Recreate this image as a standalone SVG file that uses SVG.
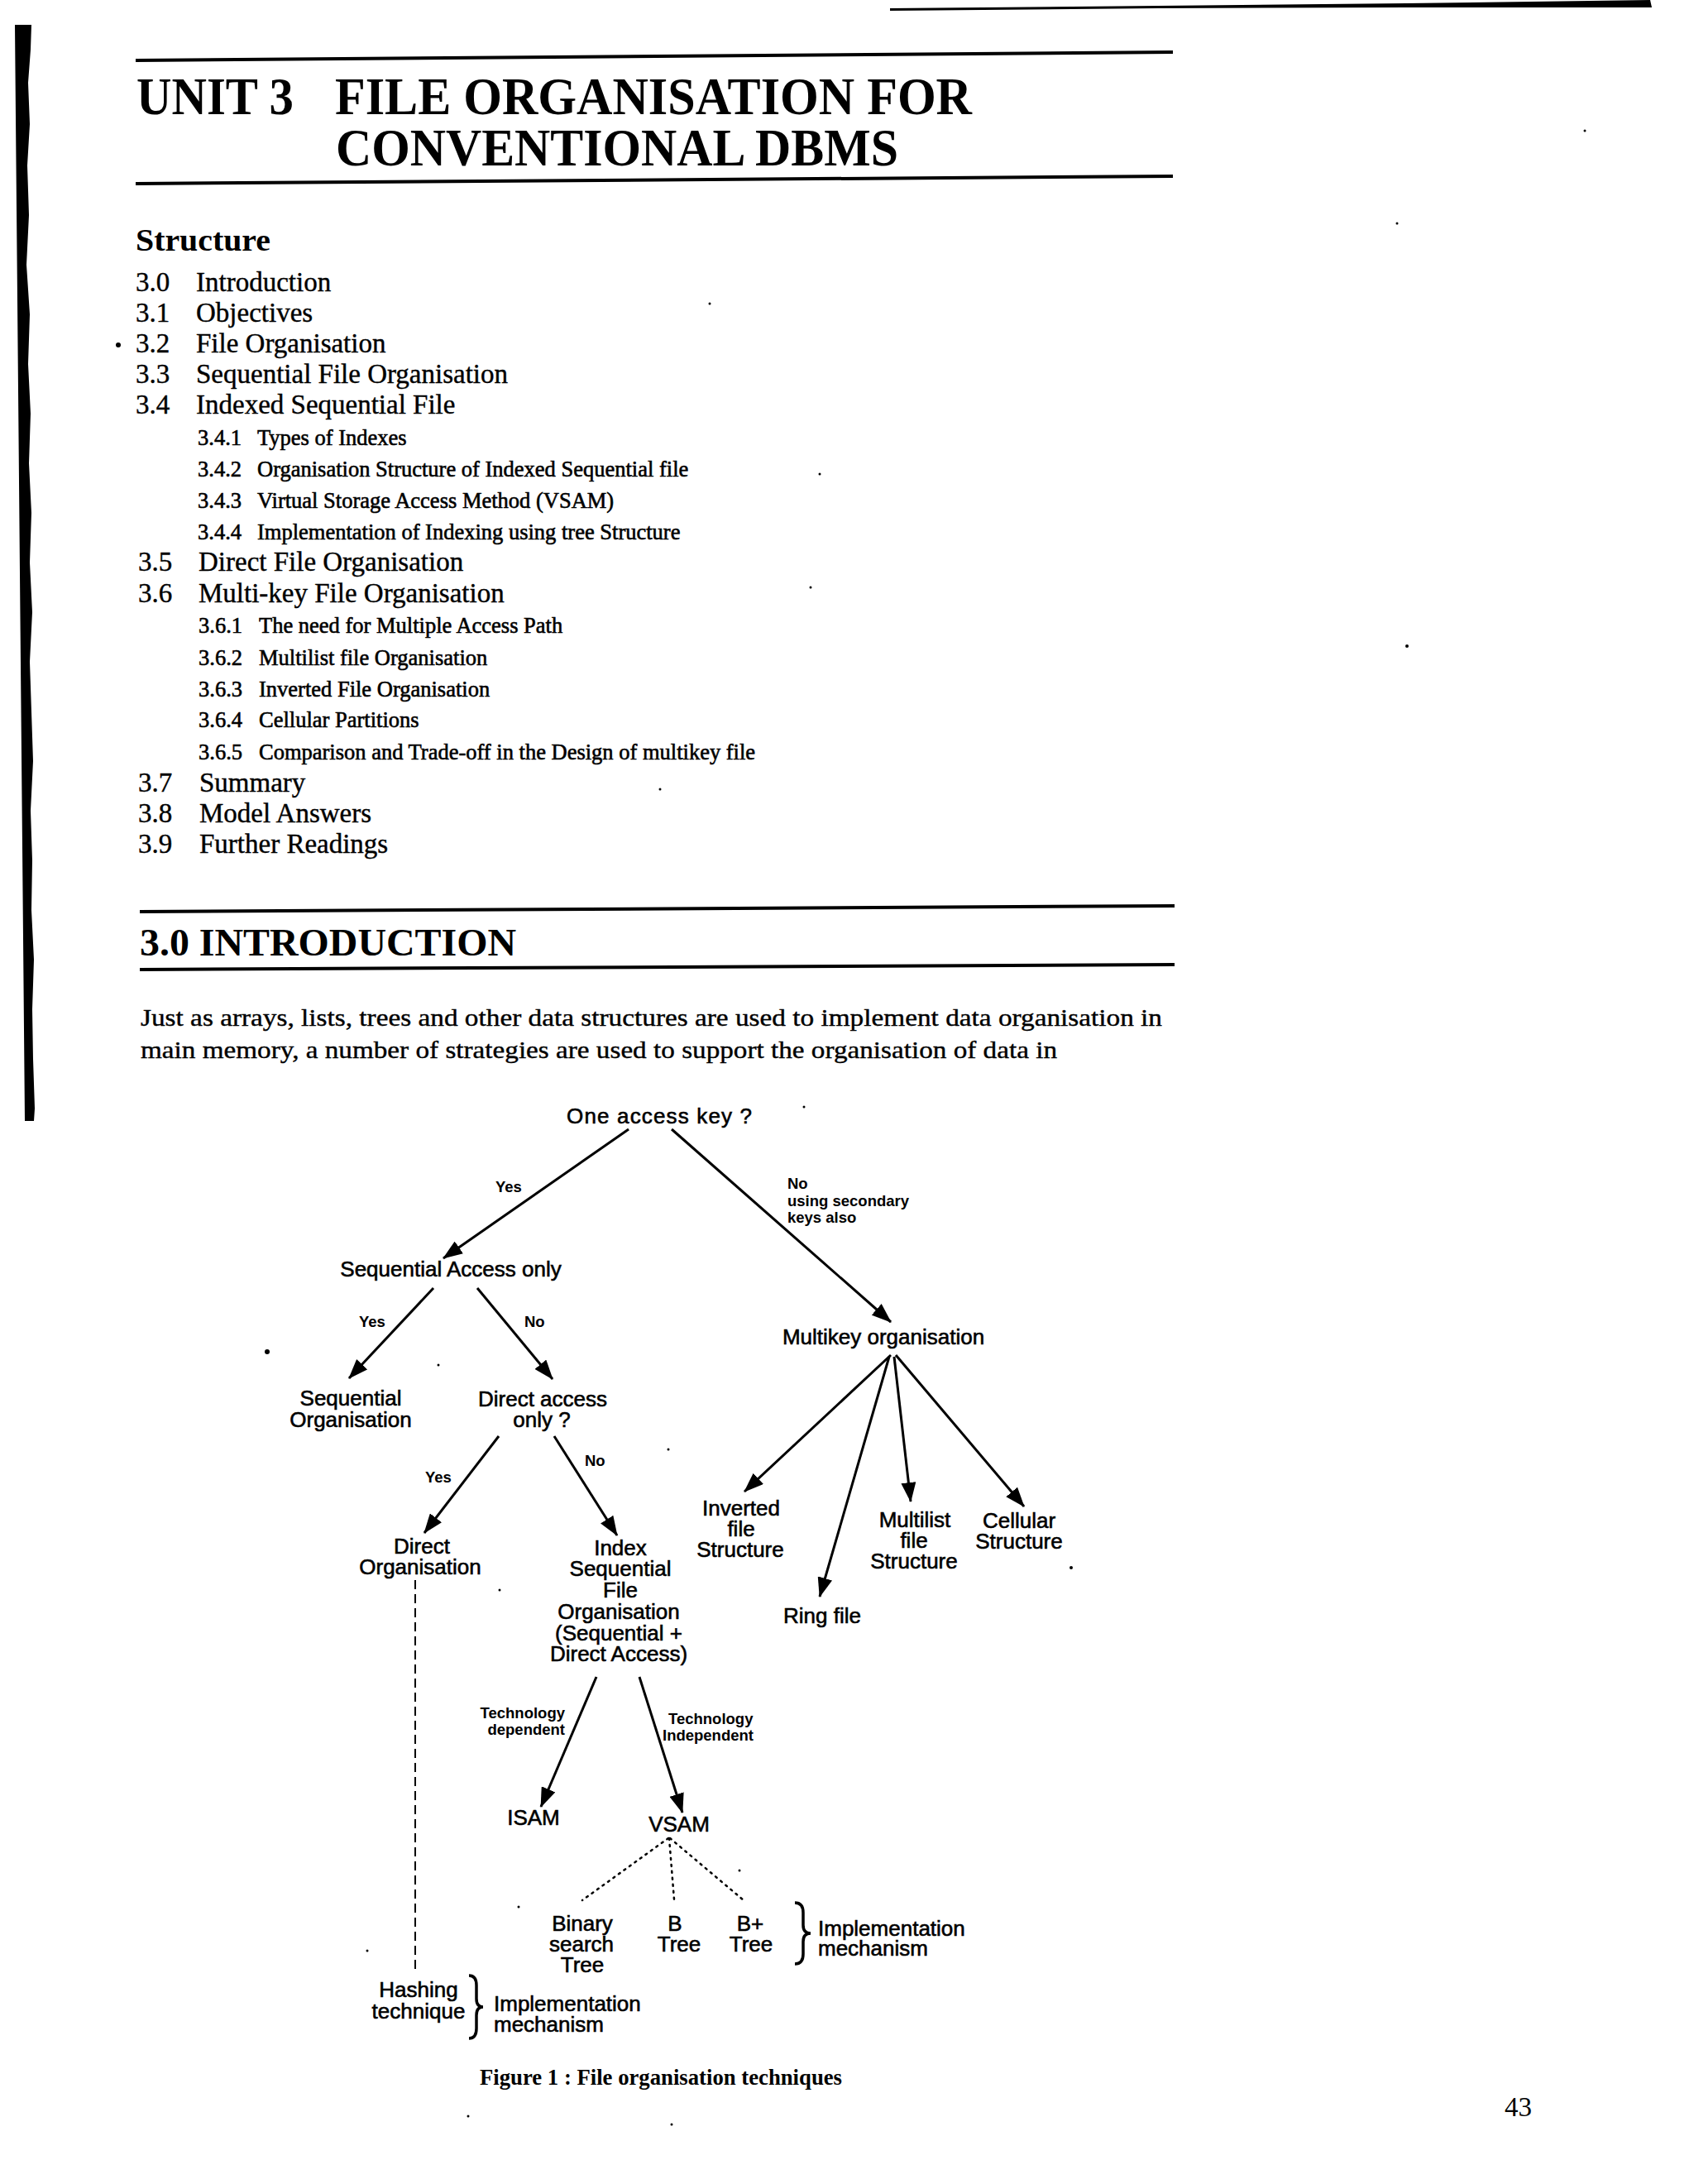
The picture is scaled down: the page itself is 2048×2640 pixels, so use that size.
<svg xmlns="http://www.w3.org/2000/svg" width="2048" height="2640" viewBox="0 0 2048 2640">
<defs>
<style>
.serif{font-family:"Liberation Serif","Times New Roman",serif;fill:#000}
.tb{font-weight:bold}
.title{font-size:63px;font-weight:bold}
.toc{font-size:33px;stroke:#000;stroke-width:0.4}
.sub{font-size:26.5px;stroke:#000;stroke-width:0.6}
.para{font-size:30px;stroke:#000;stroke-width:0.4}
.node{font-family:"Liberation Sans",Arial,sans-serif;font-size:26px;fill:#000;text-anchor:middle;stroke:#000;stroke-width:0.6}
.lbl{font-family:"Liberation Sans",Arial,sans-serif;font-size:18.5px;font-weight:bold;fill:#000}
.edge{stroke:#000;stroke-width:3;fill:none}
.dot{stroke:#000;stroke-width:2.5;fill:none;stroke-dasharray:2 6;stroke-linecap:round}
.dash{stroke:#000;stroke-width:2;fill:none;stroke-dasharray:11 6}
.rule{stroke:#000;stroke-width:4;fill:none}
.brace{stroke:#000;stroke-width:3.5;fill:none}
</style>
<marker id="ah" markerUnits="userSpaceOnUse" markerWidth="24" markerHeight="18" refX="23" refY="9" orient="auto">
<path d="M0,0 L24,9 L0,18 z" fill="#000"/>
</marker>
</defs>
<rect width="2048" height="2640" fill="#fff"/>

<!-- page decorations -->
<g id="page">
<polygon points="18,30 38,30 37,60 34,100 36,150 33,200 35,260 32,320 36,380 34,440 37,500 35,560 38,620 36,680 39,740 36,800 38,860 40,920 37,980 39,1040 38,1100 41,1160 39,1220 40,1280 42,1340 41,1355 30,1355" fill="#000"/>
<polygon points="1076,10 1400,7 1700,4 1995,0 1997,9 1700,9 1400,10 1076,13" fill="#000"/>
<line class="rule" x1="164" y1="73" x2="1418" y2="63"/>
<line class="rule" x1="164" y1="222" x2="1418" y2="213"/>
<line class="rule" x1="169" y1="1102" x2="1420" y2="1095"/>
<line class="rule" x1="169" y1="1172" x2="1420" y2="1166"/>
<g fill="#000">
<circle cx="143" cy="417" r="3"/>
<circle cx="323" cy="1634" r="3"/>
<circle cx="1916" cy="158" r="1.5"/>
<circle cx="1689" cy="270" r="1.5"/>
<circle cx="858" cy="367" r="1.5"/>
<circle cx="991" cy="573" r="1.5"/>
<circle cx="980" cy="710" r="1.5"/>
<circle cx="1701" cy="781" r="2"/>
<circle cx="798" cy="954" r="1.5"/>
<circle cx="972" cy="1338" r="1.5"/>
<circle cx="530" cy="1650" r="1.5"/>
<circle cx="808" cy="1752" r="1.5"/>
<circle cx="604" cy="1922" r="1.5"/>
<circle cx="894" cy="2261" r="1.5"/>
<circle cx="627" cy="2305" r="1.5"/>
<circle cx="444" cy="2358" r="1.5"/>
<circle cx="1295" cy="1895" r="2"/>
<circle cx="566" cy="2558" r="1.5"/>
<circle cx="812" cy="2568" r="1.5"/>
</g>
</g>

<g id="heading" class="serif">
<text class="title" x="165" y="138" textLength="190" lengthAdjust="spacingAndGlyphs">UNIT 3</text>
<text class="title" x="405" y="138" textLength="770" lengthAdjust="spacingAndGlyphs">FILE ORGANISATION FOR</text>
<text class="title" x="406" y="200" textLength="680" lengthAdjust="spacingAndGlyphs">CONVENTIONAL DBMS</text>
<text class="tb" x="164" y="303" font-size="38" textLength="163" lengthAdjust="spacingAndGlyphs">Structure</text>
</g>

<g id="toc" class="serif">
<text class="toc" x="164" y="352">3.0</text><text class="toc" x="237" y="352">Introduction</text>
<text class="toc" x="164" y="389">3.1</text><text class="toc" x="237" y="389">Objectives</text>
<text class="toc" x="164" y="426">3.2</text><text class="toc" x="237" y="426">File Organisation</text>
<text class="toc" x="164" y="463">3.3</text><text class="toc" x="237" y="463">Sequential File Organisation</text>
<text class="toc" x="164" y="500">3.4</text><text class="toc" x="237" y="500">Indexed Sequential File</text>
<text class="sub" x="239" y="538">3.4.1</text><text class="sub" x="311" y="538">Types of Indexes</text>
<text class="sub" x="239" y="576">3.4.2</text><text class="sub" x="311" y="576">Organisation Structure of Indexed Sequential file</text>
<text class="sub" x="239" y="614">3.4.3</text><text class="sub" x="311" y="614">Virtual Storage Access Method (VSAM)</text>
<text class="sub" x="239" y="652">3.4.4</text><text class="sub" x="311" y="652">Implementation of Indexing using tree Structure</text>
<text class="toc" x="167" y="690">3.5</text><text class="toc" x="240" y="690">Direct File Organisation</text>
<text class="toc" x="167" y="728">3.6</text><text class="toc" x="240" y="728">Multi-key File Organisation</text>
<text class="sub" x="240" y="765">3.6.1</text><text class="sub" x="313" y="765">The need for Multiple Access Path</text>
<text class="sub" x="240" y="804">3.6.2</text><text class="sub" x="313" y="804">Multilist file Organisation</text>
<text class="sub" x="240" y="842">3.6.3</text><text class="sub" x="313" y="842">Inverted File Organisation</text>
<text class="sub" x="240" y="879">3.6.4</text><text class="sub" x="313" y="879">Cellular Partitions</text>
<text class="sub" x="240" y="918">3.6.5</text><text class="sub" x="313" y="918">Comparison and Trade-off in the Design of multikey file</text>
<text class="toc" x="167" y="957">3.7</text><text class="toc" x="241" y="957">Summary</text>
<text class="toc" x="167" y="994">3.8</text><text class="toc" x="241" y="994">Model Answers</text>
<text class="toc" x="167" y="1031">3.9</text><text class="toc" x="241" y="1031">Further Readings</text>
</g>

<g id="intro" class="serif">
<text class="tb" x="169" y="1155" font-size="46" textLength="455" lengthAdjust="spacingAndGlyphs">3.0 INTRODUCTION</text>
<text class="para" x="170" y="1240" textLength="1235" lengthAdjust="spacingAndGlyphs">Just as arrays, lists, trees and other data structures are used to implement data organisation in</text>
<text class="para" x="170" y="1279" textLength="1108" lengthAdjust="spacingAndGlyphs">main memory, a number of strategies are used to support the organisation of data in</text>
</g>

<!-- connectors -->
<g id="connectors">
<line class="edge" x1="760" y1="1365" x2="536" y2="1521" marker-end="url(#ah)"/>
<line class="edge" x1="812" y1="1365" x2="1077" y2="1598" marker-end="url(#ah)"/>
<line class="edge" x1="524" y1="1557" x2="422" y2="1666" marker-end="url(#ah)"/>
<line class="edge" x1="577" y1="1557" x2="668" y2="1667" marker-end="url(#ah)"/>
<line class="edge" x1="603" y1="1736" x2="513" y2="1853" marker-end="url(#ah)"/>
<line class="edge" x1="670" y1="1736" x2="746" y2="1856" marker-end="url(#ah)"/>
<line class="edge" x1="721" y1="2027" x2="654" y2="2184" marker-end="url(#ah)"/>
<line class="edge" x1="773" y1="2027" x2="825" y2="2191" marker-end="url(#ah)"/>
<line class="edge" x1="1077" y1="1638" x2="900" y2="1803" marker-end="url(#ah)"/>
<line class="edge" x1="1075" y1="1640" x2="991" y2="1930" marker-end="url(#ah)"/>
<line class="edge" x1="1081" y1="1640" x2="1101" y2="1815" marker-end="url(#ah)"/>
<line class="edge" x1="1083" y1="1638" x2="1238" y2="1821" marker-end="url(#ah)"/>
<line class="dot" x1="808" y1="2222" x2="704" y2="2297"/>
<line class="dot" x1="809" y1="2222" x2="815" y2="2296"/>
<line class="dot" x1="810" y1="2222" x2="899" y2="2297"/>
<line class="dash" x1="502" y1="1910" x2="502" y2="2380"/>
<path class="brace" d="M961,2300 Q971,2300 971,2312 L971,2327 Q971,2337 980,2337 Q971,2337 971,2347 L971,2362 Q971,2374 961,2374"/>
<path class="brace" d="M567,2388 Q576,2388 576,2400 L576,2416 Q576,2426 584,2426 Q576,2426 576,2436 L576,2452 Q576,2464 567,2464"/>
<text class="lbl" x="599" y="1441">Yes</text>
<text class="lbl" x="952" y="1437">No</text>
<text class="lbl" x="952" y="1458">using secondary</text>
<text class="lbl" x="952" y="1478">keys also</text>
<text class="lbl" x="434" y="1604">Yes</text>
<text class="lbl" x="634" y="1604">No</text>
<text class="lbl" x="514" y="1792">Yes</text>
<text class="lbl" x="707" y="1772">No</text>
<text class="lbl" x="683" y="2077" text-anchor="end">Technology</text>
<text class="lbl" x="683" y="2097" text-anchor="end">dependent</text>
<text class="lbl" x="808" y="2084">Technology</text>
<text class="lbl" x="801" y="2104">Independent</text>
</g>

<g id="n-onekey"><text class="node" x="685" y="1358" style="text-anchor:start" textLength="224" lengthAdjust="spacing">One access key ?</text></g>
<g id="n-seqaccess"><text class="node" x="545" y="1543">Sequential Access only</text></g>
<g id="n-multikey"><text class="node" x="1068" y="1625">Multikey organisation</text></g>
<g id="n-seqorg"><text class="node"><tspan x="424" y="1699">Sequential</tspan><tspan x="424" y="1725">Organisation</tspan></text></g>
<g id="n-directq"><text class="node"><tspan x="656" y="1700">Direct access</tspan><tspan x="655" y="1725">only ?</tspan></text></g>
<g id="n-directorg"><text class="node"><tspan x="510" y="1878">Direct</tspan><tspan x="508" y="1903">Organisation</tspan></text></g>
<g id="n-isfo"><text class="node"><tspan x="750" y="1880">Index</tspan><tspan x="750" y="1905">Sequential</tspan><tspan x="750" y="1931">File</tspan><tspan x="748" y="1957">Organisation</tspan><tspan x="748" y="1983">(Sequential +</tspan><tspan x="748" y="2008">Direct Access)</tspan></text></g>
<g id="n-inverted"><text class="node"><tspan x="896" y="1832">Inverted</tspan><tspan x="896" y="1857">file</tspan><tspan x="895" y="1882">Structure</tspan></text></g>
<g id="n-ring"><text class="node" x="994" y="1962">Ring file</text></g>
<g id="n-multilist"><text class="node"><tspan x="1106" y="1846">Multilist</tspan><tspan x="1105" y="1871">file</tspan><tspan x="1105" y="1896">Structure</tspan></text></g>
<g id="n-cellular"><text class="node"><tspan x="1232" y="1847">Cellular</tspan><tspan x="1232" y="1872">Structure</tspan></text></g>
<g id="n-isam"><text class="node" x="645" y="2206">ISAM</text></g>
<g id="n-vsam"><text class="node" x="821" y="2214">VSAM</text></g>
<g id="n-bst"><text class="node"><tspan x="704" y="2334">Binary</tspan><tspan x="703" y="2359">search</tspan><tspan x="704" y="2384">Tree</tspan></text></g>
<g id="n-btree"><text class="node"><tspan x="816" y="2334">B</tspan><tspan x="821" y="2359">Tree</tspan></text></g>
<g id="n-bplus"><text class="node"><tspan x="907" y="2334">B+</tspan><tspan x="908" y="2359">Tree</tspan></text></g>
<g id="n-impl1"><text class="node" style="text-anchor:start"><tspan x="989" y="2340">Implementation</tspan><tspan x="989" y="2364">mechanism</tspan></text></g>
<g id="n-hashing"><text class="node"><tspan x="506" y="2414">Hashing</tspan><tspan x="506" y="2440">technique</tspan></text></g>
<g id="n-impl2"><text class="node" style="text-anchor:start"><tspan x="597" y="2431">Implementation</tspan><tspan x="597" y="2456">mechanism</tspan></text></g>

<g id="caption" class="serif">
<text class="tb" x="580" y="2520" font-size="26.5" textLength="438" lengthAdjust="spacingAndGlyphs">Figure 1 : File organisation techniques</text>
<text x="1819" y="2558" font-size="33">43</text>
</g>
</svg>
